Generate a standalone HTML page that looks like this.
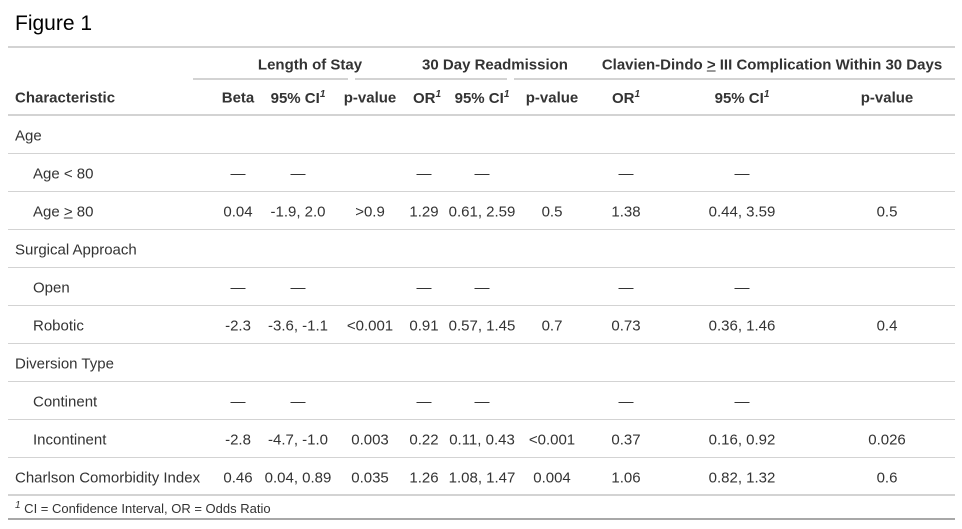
<!DOCTYPE html>
<html><head><meta charset="utf-8"><style>
body{margin:0;width:962px;height:529px;background:#fff;font-family:"Liberation Sans",sans-serif;color:#333;position:relative;overflow:hidden}
.t{position:absolute;font-size:15px;white-space:nowrap;transform:translate(-50%,-50%)}
.l{position:absolute;font-size:15px;white-space:nowrap;transform:translateY(-50%)}
.b{font-weight:bold}
.h{position:absolute;left:8px;width:947px;height:1px;background:#d3d3d3}
.s{position:absolute;height:2px;background:#d3d3d3;top:78px}
sup{font-size:10px;font-style:italic}
</style></head><body>
<div class="l" style="left:15px;top:24px;font-size:21px;color:#000">Figure 1</div>
<div class="h" style="top:46px;height:2px"></div>
<div class="t b" style="left:310px;top:65px">Length of Stay</div>
<div class="t b" style="left:495px;top:65px">30 Day Readmission</div>
<div class="t b" style="left:772px;top:65px">Clavien-Dindo <u>&gt;</u> III Complication Within 30 Days</div>
<div class="s" style="left:193px;width:155px"></div>
<div class="s" style="left:355px;width:152px"></div>
<div class="s" style="left:514px;width:441px"></div>
<div class="l b" style="left:15px;top:98px">Characteristic</div>
<div class="t b" style="left:238px;top:98px">Beta</div>
<div class="t b" style="left:298px;top:98px">95% CI<sup>1</sup></div>
<div class="t b" style="left:370px;top:98px">p-value</div>
<div class="t b" style="left:427px;top:98px">OR<sup>1</sup></div>
<div class="t b" style="left:482px;top:98px">95% CI<sup>1</sup></div>
<div class="t b" style="left:552px;top:98px">p-value</div>
<div class="t b" style="left:626px;top:98px">OR<sup>1</sup></div>
<div class="t b" style="left:742px;top:98px">95% CI<sup>1</sup></div>
<div class="t b" style="left:887px;top:98px">p-value</div>
<div class="h" style="top:114px;height:2px"></div>
<div class="h" style="top:153px"></div><div class="h" style="top:191px"></div><div class="h" style="top:229px"></div><div class="h" style="top:267px"></div><div class="h" style="top:305px"></div><div class="h" style="top:343px"></div><div class="h" style="top:381px"></div><div class="h" style="top:419px"></div><div class="h" style="top:457px"></div>
<div class="h" style="top:494px;height:2px"></div>
<div class="h" style="top:518px;height:2px;background:#a8a8a8"></div>

<div class="l" style="left:15px;top:136px">Age</div>
<div class="l" style="left:33px;top:174px">Age &lt; 80</div>
<div class="t" style="left:238px;top:174px">—</div><div class="t" style="left:298px;top:174px">—</div><div class="t" style="left:424px;top:174px">—</div><div class="t" style="left:482px;top:174px">—</div><div class="t" style="left:626px;top:174px">—</div><div class="t" style="left:742px;top:174px">—</div>
<div class="l" style="left:33px;top:212px">Age <u>&gt;</u> 80</div>
<div class="t" style="left:238px;top:212px">0.04</div><div class="t" style="left:298px;top:212px">-1.9, 2.0</div><div class="t" style="left:370px;top:212px">&gt;0.9</div><div class="t" style="left:424px;top:212px">1.29</div><div class="t" style="left:482px;top:212px">0.61, 2.59</div><div class="t" style="left:552px;top:212px">0.5</div><div class="t" style="left:626px;top:212px">1.38</div><div class="t" style="left:742px;top:212px">0.44, 3.59</div><div class="t" style="left:887px;top:212px">0.5</div>
<div class="l" style="left:15px;top:250px">Surgical Approach</div>
<div class="l" style="left:33px;top:288px">Open</div>
<div class="t" style="left:238px;top:288px">—</div><div class="t" style="left:298px;top:288px">—</div><div class="t" style="left:424px;top:288px">—</div><div class="t" style="left:482px;top:288px">—</div><div class="t" style="left:626px;top:288px">—</div><div class="t" style="left:742px;top:288px">—</div>
<div class="l" style="left:33px;top:326px">Robotic</div>
<div class="t" style="left:238px;top:326px">-2.3</div><div class="t" style="left:298px;top:326px">-3.6, -1.1</div><div class="t" style="left:370px;top:326px">&lt;0.001</div><div class="t" style="left:424px;top:326px">0.91</div><div class="t" style="left:482px;top:326px">0.57, 1.45</div><div class="t" style="left:552px;top:326px">0.7</div><div class="t" style="left:626px;top:326px">0.73</div><div class="t" style="left:742px;top:326px">0.36, 1.46</div><div class="t" style="left:887px;top:326px">0.4</div>
<div class="l" style="left:15px;top:364px">Diversion Type</div>
<div class="l" style="left:33px;top:402px">Continent</div>
<div class="t" style="left:238px;top:402px">—</div><div class="t" style="left:298px;top:402px">—</div><div class="t" style="left:424px;top:402px">—</div><div class="t" style="left:482px;top:402px">—</div><div class="t" style="left:626px;top:402px">—</div><div class="t" style="left:742px;top:402px">—</div>
<div class="l" style="left:33px;top:440px">Incontinent</div>
<div class="t" style="left:238px;top:440px">-2.8</div><div class="t" style="left:298px;top:440px">-4.7, -1.0</div><div class="t" style="left:370px;top:440px">0.003</div><div class="t" style="left:424px;top:440px">0.22</div><div class="t" style="left:482px;top:440px">0.11, 0.43</div><div class="t" style="left:552px;top:440px">&lt;0.001</div><div class="t" style="left:626px;top:440px">0.37</div><div class="t" style="left:742px;top:440px">0.16, 0.92</div><div class="t" style="left:887px;top:440px">0.026</div>
<div class="l" style="left:15px;top:478px">Charlson Comorbidity Index</div>
<div class="t" style="left:238px;top:478px">0.46</div><div class="t" style="left:298px;top:478px">0.04, 0.89</div><div class="t" style="left:370px;top:478px">0.035</div><div class="t" style="left:424px;top:478px">1.26</div><div class="t" style="left:482px;top:478px">1.08, 1.47</div><div class="t" style="left:552px;top:478px">0.004</div><div class="t" style="left:626px;top:478px">1.06</div><div class="t" style="left:742px;top:478px">0.82, 1.32</div><div class="t" style="left:887px;top:478px">0.6</div>
<div class="l" style="left:15px;top:508px;font-size:13px"><sup>1</sup> CI = Confidence Interval, OR = Odds Ratio</div>
</body></html>
